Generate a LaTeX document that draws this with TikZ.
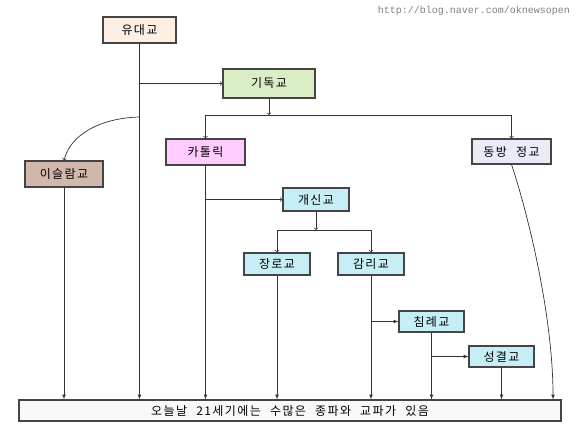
\documentclass[tikz,border=0pt]{standalone}
\usepackage{fontspec}
\newfontfamily\kr[LetterSpace=12, WordSpace=2.2]{Noto Sans CJK KR}
\setmonofont{Liberation Mono}
\usetikzlibrary{positioning, calc}
\usetikzlibrary{arrows}

\definecolor{judaism}{HTML}{FDEFE4}
\definecolor{christ}{HTML}{DAEEC6}
\definecolor{cathol}{HTML}{FFCCFF}
\definecolor{orthod}{HTML}{E9ECF7}
\definecolor{islamc}{HTML}{D2B7AC}
\definecolor{protes}{HTML}{C6EEF6}
\definecolor{todayc}{HTML}{F9F9F9}
\definecolor{edge}{HTML}{454545}

\tikzset{
    sect/.style={draw=edge, line width=1.1pt, inner sep=0pt, font=\kr\fontsize{12}{12}\selectfont},
    link/.style={draw=black!80, line width=0.7pt},
}

\begin{document}
\begin{tikzpicture}[x=1pt, y=-1pt]
                    \useasboundingbox (0,0) rectangle (580,440);
                    \node[font=\ttfamily\fontsize{10}{10}\selectfont, text=black!50] (site) at (474,11) {http://blog.naver.com/oknewsopen};

                    \node[sect, fill=judaism, minimum width=73pt, minimum height=26pt] (yudae) at (139.5,30) {유대교};
                    \node[sect, fill=christ, minimum width=92pt, minimum height=29pt] (gidok) at (269,83.5) {기독교};
                    \node[sect, fill=cathol, minimum width=79pt, minimum height=26pt] (catholic) at (205.5,152) {카톨릭};
                    \node[sect, fill=orthod, minimum width=79pt, minimum height=25pt] (orthodox) at (511.5,151.5) {동방 정교};
                    \node[sect, fill=islamc, minimum width=78pt, minimum height=26pt] (islam) at (64,174) {이슬람교};
                    \node[sect, fill=protes, minimum width=66pt, minimum height=23pt] (protestant) at (316,199.5) {개신교};
                    \node[sect, fill=protes, minimum width=66pt, minimum height=22pt] (presby) at (277,264) {장로교};
                    \node[sect, fill=protes, minimum width=66pt, minimum height=22pt] (method) at (371,264) {감리교};
                    \node[sect, fill=protes, minimum width=65pt, minimum height=21pt] (baptist) at (431.5,321.5) {침례교};
                    \node[sect, fill=protes, minimum width=65pt, minimum height=21pt] (holiness) at (501.5,356.5) {성결교};
                    \node[sect, fill=todayc, minimum width=542pt, minimum height=21pt] (today) at (290,410.5) {오늘날 21세기에는 수많은 종파와 교파가 있음};

                    \coordinate (isfork) at (yudae.south |- 0,117);
                    \coordinate (gfork) at (gidok.south |- 0,115);
                    \coordinate (pfork) at (protestant.south |- 0,230);
                    \coordinate (oend) at (today.north -| 553,0);

                    \draw[link,-latex] (yudae.south) -- (yudae.south |- today.north);
                    \draw[link,->] (yudae.south |- gidok.west) -- (gidok.west);
                    \draw[link,->] (isfork) .. controls (100,118) and (70,135) .. (islam.north);
                    \draw[link,-latex] (islam.south) -- (islam.south |- today.north);

                    \draw[link,->] (gidok.south) -- (gfork);
                    \draw[link,->] (gfork) -| (catholic.north);
                    \draw[link,->] (gfork) -| (orthodox.north);
                    \draw[link,-latex] (orthodox.south) .. controls (530,220) and (553,320) .. (oend);

                    \draw[link,-latex] (catholic.south) -- (catholic.south |- today.north);
                    \draw[link,->] (catholic.south |- protestant.west) -- (protestant.west);
                    \draw[link,->] (protestant.south) -- (pfork);
                    \draw[link,->] (pfork) -| (presby.north);
                    \draw[link,->] (pfork) -| (method.north);

                    \draw[link,-latex] (presby.south) -- (presby.south |- today.north);
                    \draw[link,-latex] (method.south) -- (method.south |- today.north);
                    \draw[link,-latex] (method.south |- baptist.west) -- (baptist.west);
                    \draw[link,-latex] (baptist.south) -- (baptist.south |- today.north);
                    \draw[link,-latex] (baptist.south |- holiness.west) -- (holiness.west);
                    \draw[link,-latex] (holiness.south) -- (holiness.south |- today.north);
                \end{tikzpicture}
\end{document}
